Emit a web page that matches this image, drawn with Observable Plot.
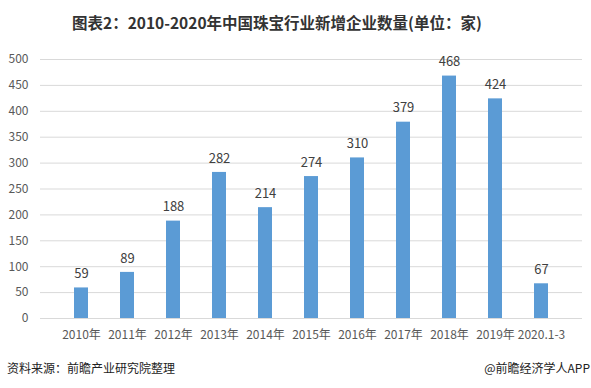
<!DOCTYPE html>
<html><head><meta charset="utf-8">
<script src="https://cdn.jsdelivr.net/npm/d3@7"></script>
<script src="https://cdn.jsdelivr.net/npm/@observablehq/plot@0.6"></script>
<style>
body{margin:0;background:#fff;font-family:"Noto Sans CJK SC","Noto Sans",sans-serif;}
#wrap{position:relative;width:591px;height:388px;overflow:hidden;}
#title{position:absolute;left:72px;top:11px;font-size:15.5px;font-weight:bold;color:#333;white-space:nowrap;}
#chart{position:absolute;left:0;top:40px;}
#src{position:absolute;left:7px;top:359px;font-size:12px;color:#222;}
#app{position:absolute;right:1px;top:359px;font-size:12px;color:#222;}
</style></head>
<body><div id="wrap">
<div id="title">图表2：2010-2020年中国珠宝行业新增企业数量(单位：家)</div>
<div id="chart"></div>
<div id="src">资料来源：前瞻产业研究院整理</div>
<div id="app">@前瞻经济学人APP</div>
</div>
<script>
const categories = ["2010年","2011年","2012年","2013年","2014年","2015年","2016年","2017年","2018年","2019年","2020.1-3"];
const values = [59,89,188,282,214,274,310,379,468,424,67];
const yTicks = [0,50,100,150,200,250,300,350,400,450,500];
const data = categories.map((c,i)=>({c, v: values[i]}));
const plot = Plot.plot({
  width: 591, height: 310,
  marginTop: 19, marginBottom: 32, marginLeft: 40, marginRight: 9,
  style: {fontFamily: '"Noto Sans CJK SC","Noto Sans",sans-serif', fontSize: "12px", color: "#595959", background: "#fff"},
  x: {domain: categories, padding: 0.69, label: null, tickSize: 0, tickPadding: 12},
  y: {domain: [0,500], ticks: yTicks, label: null},
  marks: [
    Plot.gridY(yTicks, {stroke: "#d9d9d9", strokeOpacity: 1}),
    Plot.axisY(yTicks, {tickSize: 0, tickPadding: 12, label: null, fill: "#595959"}),
    Plot.axisX({tickSize: 0, tickPadding: 12, label: null, fill: "#595959"}),
    Plot.barY(data, {x: "c", y: "v", fill: "#5b9bd5"}),
    Plot.text(data, {x: "c", y: "v", text: d => String(d.v), dy: -14, fill: "#404040", fontSize: 13})
  ]
});
document.getElementById("chart").appendChild(plot);
</script>
</body></html>
